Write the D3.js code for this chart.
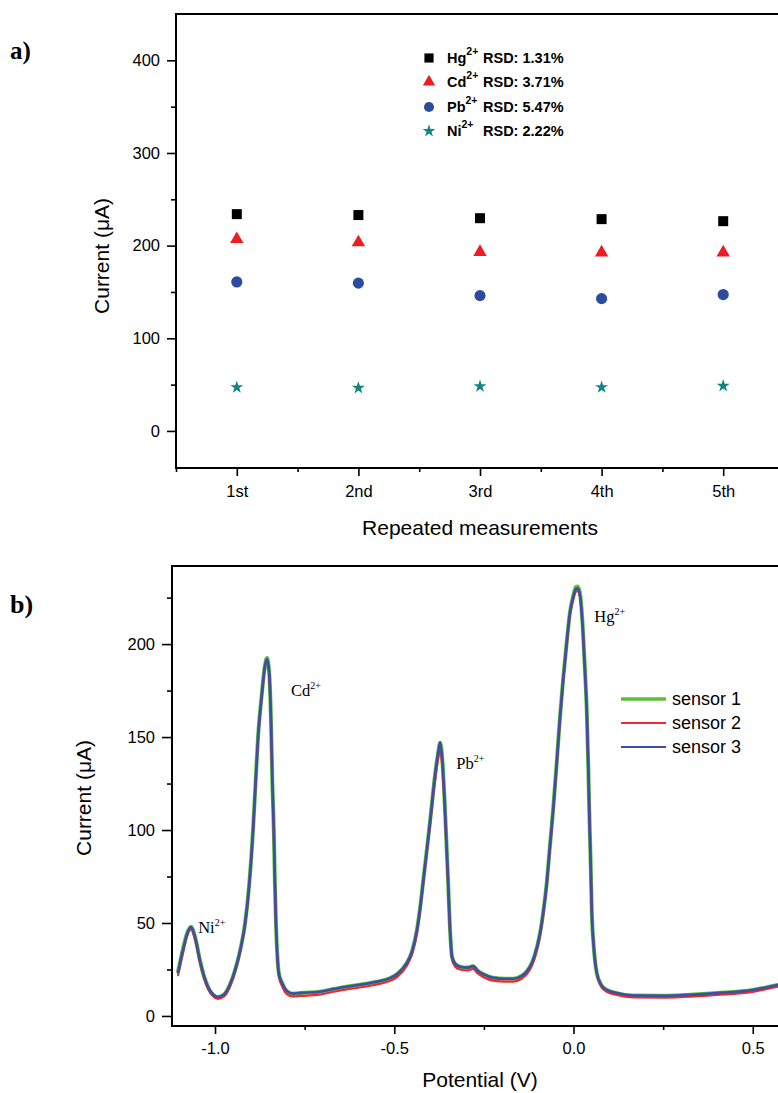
<!DOCTYPE html>
<html>
<head>
<meta charset="utf-8">
<script src="https://cdn.jsdelivr.net/npm/d3@7"></script>
<style>
  html, body { margin: 0; padding: 0; background: #ffffff; }
  svg { display: block; }
  text { font-family: "Liberation Sans", Arial, sans-serif; fill: #000; }
</style>
</head>
<body>
<svg id="chart" width="778" height="1093"></svg>
<script>
// ---------- Panel a data ----------
const categories = ["1st", "2nd", "3rd", "4th", "5th"];
const hgValues = [234, 233, 229.6, 228.6, 226.4];
const cdValues = [207, 203.5, 193, 192.5, 192.5];
const pbValues = [160.8, 159.5, 146, 142.8, 147.2];
const niValues = [47.1, 46.4, 48.2, 47.1, 48.6];
const ionNames = ["Hg", "Cd", "Pb", "Ni"];
const rsdLabels = ["RSD: 1.31%", "RSD: 3.71%", "RSD: 5.47%", "RSD: 2.22%"];
const yTicksA = [0, 100, 200, 300, 400];
const yMinorA = [50, 150, 250, 350];

// ---------- Panel b data ----------
const potential = [-1.103,-1.090,-1.078,-1.067,-1.055,-1.042,-1.030,-1.018,-1.005,-0.992,
  -0.975,-0.958,-0.942,-0.928,-0.916,-0.905,-0.894,-0.887,-0.880,-0.870,
  -0.861,-0.855,-0.849,-0.844,-0.840,-0.836,-0.833,-0.830,-0.826,-0.822,
  -0.813,-0.800,-0.783,-0.760,-0.708,-0.670,-0.624,-0.560,-0.510,-0.492,
  -0.465,-0.450,-0.437,-0.428,-0.419,-0.410,-0.400,-0.386,-0.378,-0.372,
  -0.366,-0.358,-0.350,-0.344,-0.339,-0.330,-0.317,-0.295,-0.280,-0.268,
  -0.252,-0.224,-0.190,-0.168,-0.145,-0.130,-0.115,-0.102,-0.093,-0.085,
  -0.075,-0.066,-0.056,-0.047,-0.038,-0.029,-0.019,-0.010,0.000,0.006,
  0.012,0.019,0.026,0.032,0.037,0.041,0.044,0.048,0.051,0.056,
  0.065,0.078,0.093,0.120,0.166,0.250,0.305,0.400,0.500,0.570,0.620];
const sensor1 = [24,35.5,44.5,48,42,30,21,15,11.5,10.2,
  11.5,17,26,37,50,70,100,125,150,172,
  188,192.5,185,160,125,100,72,50,32,23,
  17.7,13.5,12,12.4,13,14.5,16,18,20.5,22.5,
  28.5,35,46,58,73,88,105,130,141,147,
  138,109,73,45,32,28,26.5,26,26.8,24.5,
  22.5,20.5,20,20,21.5,24,29,37,45,55,
  71,91,113,136,160,181,201,217,226.5,230.5,
  231,226,208.5,186,164,136,110,81,56,38.5,
  23,16.5,14,12.3,11,10.9,11.2,12.3,14,16.7,18.5];
const sensor2 = [22,33.5,43,46.5,40.5,28.5,19.8,14,10.5,9.2,
  10.5,16,25,36,49,69,99,124,149,171,
  187.5,191.5,184,159,124,99,71,48.5,30.5,21.5,
  16,11.8,10.5,10.8,11.5,13,14.5,16.5,19,21,
  27,33.5,44.5,56.5,71.5,86.5,103,127,138,143,
  134,106,71,43.5,30.5,26.5,25,24.5,25.3,23,
  21,19,18.5,18.5,20,22.5,27.5,35.5,43.5,53.5,
  69.5,89.5,111.5,134.5,158.5,179.5,199.5,215.5,224.5,228,
  228.5,224.5,208,186,164.5,137,111,82,57,39,
  23,15.5,13,11.3,10,9.9,10.2,11.3,13,15.7,17.5];
const sensor3 = [23.5,35,44,47.8,42,30,21,15,11.5,10.2,
  11.5,17,26,37,50,70,100,125,150,172,
  188,192,185,160,125,100,72,50,32,23,
  17.7,13.5,12,12.4,13,14.5,16,18,20.5,22.5,
  28.5,35,46,58,73,88,105,130,141,147,
  138,109,73,45,32,28,26.5,26,26.8,24.5,
  22.5,20.5,20,20,21.5,24,29,37,45,55,
  71,91,113,136,160,181,201,217,226,229.5,
  230,225,207.5,185,163,135,109,80,55,38,
  23,16.5,14,12.3,11,10.9,11.2,12.3,14,16.7,18.5];
const sensorNames = ["sensor 1", "sensor 2", "sensor 3"];
const sensorColors = ["#5cbf3c", "#ee2a2a", "#3a4fa6"];
const sensorWidths = [4, 2.2, 2.6];
const legendWidths = [3.6, 2, 2.2];
const peakIons = ["Ni", "Cd", "Pb", "Hg"];
const peakLabelV = [-1.047, -0.788, -0.327, 0.058];
const peakLabelI = [44.5, 172, 133, 212];
const yTicksB = [0, 50, 100, 150, 200];
const yMinorB = [25, 75, 125, 175, 225];
const xTicksB = [-1.0, -0.5, 0.0, 0.5];
const xMinorB = [-0.75, -0.25, 0.25];

const svg = d3.select("#chart");
const tickFont = "16.5px";
const titleFont = "21px";

function styleAxis(g) {
  g.select(".domain").remove();
  g.selectAll(".tick line").attr("stroke", "#000").attr("stroke-width", 1.6);
  g.selectAll(".tick text").style("font-size", tickFont).attr("fill", "#000");
}

// ================= Panel a =================
const xA = d3.scaleLinear().domain([0.5, 5.5]).range([176, 784]);
const yA = d3.scaleLinear().domain([-40, 450]).range([468, 14]);
const gA = svg.append("g");

gA.append("g").attr("transform", `translate(${xA.range()[0]},0)`)
  .call(d3.axisLeft(yA).tickValues(yMinorA).tickSize(5).tickFormat(""))
  .call(styleAxis);
gA.append("g").attr("transform", `translate(${xA.range()[0]},0)`)
  .call(d3.axisLeft(yA).tickValues(yTicksA).tickSize(9).tickPadding(7).tickFormat(d3.format("d")))
  .call(styleAxis);
gA.append("g").attr("transform", `translate(0,${yA.range()[0]})`)
  .call(d3.axisBottom(xA).tickValues([0.5, 1.5, 2.5, 3.5, 4.5, 5.5]).tickSize(4).tickFormat(""))
  .call(styleAxis);
gA.append("g").attr("transform", `translate(0,${yA.range()[0]})`)
  .call(d3.axisBottom(xA).tickValues(categories.map((c, i) => i + 1)).tickSize(8).tickPadding(9)
        .tickFormat((d) => categories[d - 1]))
  .call(styleAxis);

// frame lines
gA.append("line").attr("x1", xA.range()[0]).attr("x2", xA.range()[0])
  .attr("y1", yA.range()[1]).attr("y2", yA.range()[0] + 1).attr("stroke", "#000").attr("stroke-width", 2);
gA.append("line").attr("x1", xA.range()[0]).attr("x2", xA.range()[1])
  .attr("y1", yA.range()[0]).attr("y2", yA.range()[0]).attr("stroke", "#000").attr("stroke-width", 2);
gA.append("line").attr("x1", xA.range()[0] - 1).attr("x2", xA.range()[1])
  .attr("y1", yA.range()[1]).attr("y2", yA.range()[1]).attr("stroke", "#000").attr("stroke-width", 2);

const seriesA = [
  { values: hgValues, symbol: d3.symbolSquare, size: 100, color: "#000000", legendSize: 84 },
  { values: cdValues, symbol: d3.symbolTriangle, size: 78, color: "#ec1c24", legendSize: 66 },
  { values: pbValues, symbol: d3.symbolCircle, size: 98, color: "#2d4c9e", legendSize: 80 },
  { values: niValues, symbol: d3.symbolStar, size: 52, color: "#128580", legendSize: 52 }
];
seriesA.forEach((s) => {
  gA.append("g").selectAll("path").data(s.values).join("path")
    .attr("transform", (d, i) => `translate(${xA(i + 1)},${yA(d)})`)
    .attr("d", d3.symbol().type(s.symbol).size(s.size)())
    .attr("fill", s.color);
});

// legend a
const legA = gA.append("g");
const legRowsY = [58, 82, 107, 131];
seriesA.forEach((s, i) => {
  const y = legRowsY[i];
  legA.append("path").attr("transform", `translate(429,${y})`)
    .attr("d", d3.symbol().type(s.symbol).size(s.legendSize)()).attr("fill", s.color);
  const t = legA.append("text").attr("x", 447).attr("y", y + 5)
    .style("font-size", "14.5px").style("font-weight", "bold");
  t.append("tspan").text(ionNames[i]);
  t.append("tspan").attr("dy", -8).style("font-size", "10.5px").text("2+");
  legA.append("text").attr("x", 483).attr("y", y + 5)
    .style("font-size", "14.5px").style("font-weight", "bold").text(rsdLabels[i]);
});

gA.append("text").attr("x", 480).attr("y", 535).attr("text-anchor", "middle")
  .style("font-size", titleFont).text("Repeated measurements");
gA.append("text").attr("transform", "translate(109,256) rotate(-90)").attr("text-anchor", "middle")
  .style("font-size", titleFont).text("Current (\u03BCA)");
gA.append("text").attr("x", 10).attr("y", 59)
  .style("font-family", "'Liberation Serif', 'Times New Roman', serif").style("font-weight", "bold")
  .style("font-size", "25px").text("a)");

// ================= Panel b =================
const xB = d3.scaleLinear().domain([-1.12, 0.62]).range([172, 172 + 1.74 * 358.5]);
const yB = d3.scaleLinear().domain([-5.4, 242]).range([1026, 566]);
const gB = svg.append("g");

gB.append("g").attr("transform", `translate(${xB.range()[0]},0)`)
  .call(d3.axisLeft(yB).tickValues(yMinorB).tickSize(5).tickFormat(""))
  .call(styleAxis);
gB.append("g").attr("transform", `translate(${xB.range()[0]},0)`)
  .call(d3.axisLeft(yB).tickValues(yTicksB).tickSize(10).tickPadding(7).tickFormat(d3.format("d")))
  .call(styleAxis);
gB.append("g").attr("transform", `translate(0,${yB.range()[0]})`)
  .call(d3.axisBottom(xB).tickValues(xMinorB).tickSize(4).tickFormat(""))
  .call(styleAxis);
gB.append("g").attr("transform", `translate(0,${yB.range()[0]})`)
  .call(d3.axisBottom(xB).tickValues(xTicksB).tickSize(8).tickPadding(8).tickFormat((d) => d.toFixed(1)))
  .call(styleAxis);

gB.append("line").attr("x1", xB.range()[0]).attr("x2", xB.range()[0])
  .attr("y1", yB.range()[1]).attr("y2", yB.range()[0] + 1).attr("stroke", "#000").attr("stroke-width", 2);
gB.append("line").attr("x1", xB.range()[0]).attr("x2", xB.range()[1])
  .attr("y1", yB.range()[0]).attr("y2", yB.range()[0]).attr("stroke", "#000").attr("stroke-width", 2);
gB.append("line").attr("x1", xB.range()[0] - 1).attr("x2", xB.range()[1])
  .attr("y1", yB.range()[1]).attr("y2", yB.range()[1]).attr("stroke", "#000").attr("stroke-width", 2);

const line = d3.line().x((d) => xB(d[0])).y((d) => yB(d[1])).curve(d3.curveMonotoneX);
const sensors = [sensor1, sensor2, sensor3];
sensors.forEach((vals, k) => {
  gB.append("path").datum(potential.map((v, i) => [v, vals[i]]))
    .attr("d", line).attr("fill", "none")
    .attr("stroke", sensorColors[k]).attr("stroke-width", sensorWidths[k])
    .attr("stroke-linejoin", "round").attr("stroke-linecap", "round");
});

// peak labels
peakIons.forEach((ion, i) => {
  const t = gB.append("text").attr("x", xB(peakLabelV[i])).attr("y", yB(peakLabelI[i]))
    .style("font-family", "'Liberation Serif', 'Times New Roman', serif").style("font-size", "16.5px");
  t.append("tspan").text(ion);
  t.append("tspan").attr("dy", -7).style("font-size", "10px").text("2+");
});

// legend b
const legBY = [699, 723, 747];
sensorNames.forEach((name, k) => {
  gB.append("line").attr("x1", 621).attr("x2", 666).attr("y1", legBY[k]).attr("y2", legBY[k])
    .attr("stroke", sensorColors[k]).attr("stroke-width", legendWidths[k]);
  gB.append("text").attr("x", 672).attr("y", legBY[k] + 6).style("font-size", "18px").text(name);
});

gB.append("text").attr("x", 480).attr("y", 1087).attr("text-anchor", "middle")
  .style("font-size", titleFont).text("Potential (V)");
gB.append("text").attr("transform", "translate(91,798) rotate(-90)").attr("text-anchor", "middle")
  .style("font-size", titleFont).text("Current (\u03BCA)");
gB.append("text").attr("x", 10).attr("y", 613)
  .style("font-family", "'Liberation Serif', 'Times New Roman', serif").style("font-weight", "bold")
  .style("font-size", "26px").text("b)");
</script>
</body>
</html>
